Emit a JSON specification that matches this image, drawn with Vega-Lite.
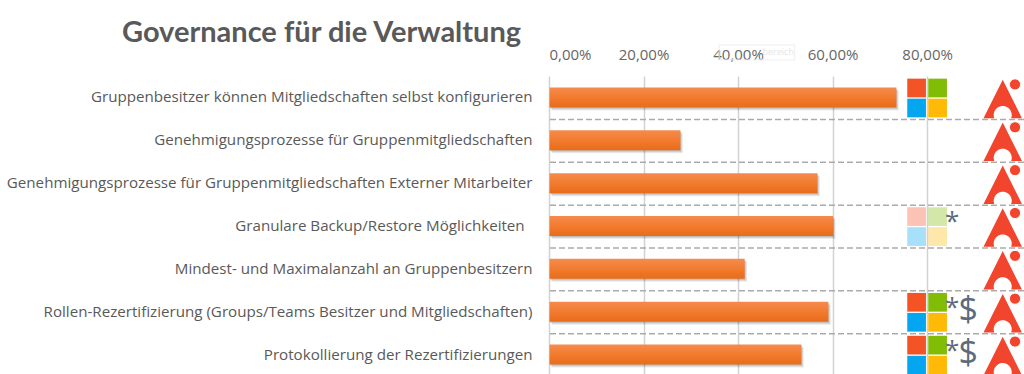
{
"$schema":"https://vega.github.io/schema/vega-lite/v6.json",
"width":475,"height":300,
"autosize":{"type":"none"},
"padding":{"left":549,"top":76,"right":0,"bottom":0},
"background":"white",
"title":{"text":"Governance für die Verwaltung","anchor":"start","frame":"group","font":"Lato","fontSize":29,"fontWeight":"bold","color":"#595959","dx":-427,"dy":4,"offset":0},
"config":{"view":{"stroke":null},"font":"Open Sans"},
"datasets":{
"bars":[
{"task":"Gruppenbesitzer können Mitgliedschaften selbst konfigurieren","value":73.4},
{"task":"Genehmigungsprozesse für Gruppenmitgliedschaften","value":27.7},
{"task":"Genehmigungsprozesse für Gruppenmitgliedschaften Externer Mitarbeiter","value":56.7},
{"task":"Granulare Backup/Restore Möglichkeiten\u00a0\u00a0\u200b","value":60.0},
{"task":"Mindest- und Maximalanzahl an Gruppenbesitzern","value":41.3},
{"task":"Rollen-Rezertifizierung (Groups/Teams Besitzer und Mitgliedschaften)","value":59.0},
{"task":"Protokollierung der Rezertifizierungen","value":53.3}
],
"tiles":[
{"task":"Gruppenbesitzer können Mitgliedschaften selbst konfigurieren","tile":"rot","spalte":0,"zeile":0,"status":"voll"},
{"task":"Gruppenbesitzer können Mitgliedschaften selbst konfigurieren","tile":"grün","spalte":1,"zeile":0,"status":"voll"},
{"task":"Gruppenbesitzer können Mitgliedschaften selbst konfigurieren","tile":"blau","spalte":0,"zeile":1,"status":"voll"},
{"task":"Gruppenbesitzer können Mitgliedschaften selbst konfigurieren","tile":"gelb","spalte":1,"zeile":1,"status":"voll"},
{"task":"Granulare Backup/Restore Möglichkeiten\u00a0\u00a0\u200b","tile":"rot","spalte":0,"zeile":0,"status":"teil"},
{"task":"Granulare Backup/Restore Möglichkeiten\u00a0\u00a0\u200b","tile":"grün","spalte":1,"zeile":0,"status":"teil"},
{"task":"Granulare Backup/Restore Möglichkeiten\u00a0\u00a0\u200b","tile":"blau","spalte":0,"zeile":1,"status":"teil"},
{"task":"Granulare Backup/Restore Möglichkeiten\u00a0\u00a0\u200b","tile":"gelb","spalte":1,"zeile":1,"status":"teil"},
{"task":"Rollen-Rezertifizierung (Groups/Teams Besitzer und Mitgliedschaften)","tile":"rot","spalte":0,"zeile":0,"status":"voll"},
{"task":"Rollen-Rezertifizierung (Groups/Teams Besitzer und Mitgliedschaften)","tile":"grün","spalte":1,"zeile":0,"status":"voll"},
{"task":"Rollen-Rezertifizierung (Groups/Teams Besitzer und Mitgliedschaften)","tile":"blau","spalte":0,"zeile":1,"status":"voll"},
{"task":"Rollen-Rezertifizierung (Groups/Teams Besitzer und Mitgliedschaften)","tile":"gelb","spalte":1,"zeile":1,"status":"voll"},
{"task":"Protokollierung der Rezertifizierungen","tile":"rot","spalte":0,"zeile":0,"status":"voll"},
{"task":"Protokollierung der Rezertifizierungen","tile":"grün","spalte":1,"zeile":0,"status":"voll"},
{"task":"Protokollierung der Rezertifizierungen","tile":"blau","spalte":0,"zeile":1,"status":"voll"},
{"task":"Protokollierung der Rezertifizierungen","tile":"gelb","spalte":1,"zeile":1,"status":"voll"}
],
"stars":[
{"task":"Granulare Backup/Restore Möglichkeiten\u00a0\u00a0\u200b"},
{"task":"Rollen-Rezertifizierung (Groups/Teams Besitzer und Mitgliedschaften)"},
{"task":"Protokollierung der Rezertifizierungen"}
],
"dollars":[
{"task":"Rollen-Rezertifizierung (Groups/Teams Besitzer und Mitgliedschaften)"},
{"task":"Protokollierung der Rezertifizierungen"}
]
},
"encoding":{
"y":{"field":"task","type":"nominal","sort":null,"scale":{"paddingInner":0,"paddingOuter":0},
"axis":{"title":null,"domain":false,"ticks":false,"labelFont":"Open Sans","labelFontSize":15.15,"labelColor":"#595959","labelLimit":545,"labelPadding":17}}
},
"layer":[
{"data":{"name":"bars"},"mark":{"type":"bar","height":20,"color":"#000000","opacity":0.1,"xOffset":1,"yOffset":1},
"encoding":{"x":{"field":"value","type":"quantitative","scale":{"domain":[0,100.5],"nice":false,"zero":true},
"axis":{"title":null,"orient":"top","values":[0,20,40,60,80],"domain":false,"ticks":false,"grid":true,"gridColor":"#d2d2d2","gridWidth":1.5,"labelFont":"Open Sans","labelFontSize":15,"labelColor":"#666666","labelPadding":14,"labelExpr":"replace(format(datum.value,'.2f'),'.',',')+'%'"}}}},
{"data":{"name":"bars"},"mark":{"type":"bar","height":20,"color":"#000000","opacity":0.1,"xOffset":2,"yOffset":2},
"encoding":{"x":{"field":"value","type":"quantitative"}}},
{"data":{"name":"bars"},"mark":{"type":"bar","height":20,"color":"#000000","opacity":0.08,"xOffset":3,"yOffset":3},
"encoding":{"x":{"field":"value","type":"quantitative"}}},
{"data":{"name":"bars"},"mark":{"type":"bar","height":20,"xOffset":0.5,"yOffset":0,"color":{"gradient":"linear","x1":0,"y1":0,"x2":0,"y2":1,"stops":[{"offset":0,"color":"#F58B4E"},{"offset":0.5,"color":"#F27B2E"},{"offset":1,"color":"#E86C1A"}]}},
"encoding":{"x":{"field":"value","type":"quantitative"}}},
{"data":{"name":"bars"},"transform":[{"filter":"datum.task !== 'Protokollierung der Rezertifizierungen'"}],
"mark":{"type":"rule","color":"#ababab","strokeWidth":1.5,"strokeDash":[6,3],"yOffset":22},"encoding":{}},
{"data":{"name":"tiles"},"mark":{"type":"point","shape":"square","filled":true,"size":350},
"encoding":{
"x":{"datum":80,"type":"quantitative"},
"xOffset":{"field":"spalte","type":"quantitative","scale":{"domain":[0,1],"range":[-10.5,10.5]}},
"yOffset":{"field":"zeile","type":"quantitative","scale":{"domain":[0,1],"range":[12,32]}},
"color":{"field":"tile","type":"nominal","legend":null,"scale":{"domain":["rot","grün","blau","gelb"],"range":["#F35325","#81BC06","#05A6F0","#FFBA08"]}},
"opacity":{"field":"status","type":"nominal","legend":null,"scale":{"domain":["voll","teil"],"range":[1,0.35]}}
}},
{"data":{"name":"stars"},"mark":{"type":"text","text":"*","font":"Open Sans","fontSize":26,"color":"#5D6B7A","dy":-4},
"encoding":{"x":{"datum":85.3,"type":"quantitative"}}},
{"data":{"name":"dollars"},"mark":{"type":"text","text":"$","font":"Open Sans","fontSize":34,"color":"#5D6B7A","dy":-1},
"encoding":{"x":{"datum":88.7,"type":"quantitative"}}},
{"data":{"name":"bars"},"mark":{"type":"point","filled":true,"opacity":1,"color":"#F2452D","size":1480,"yOffset":1.5,"shape":"M0,-1L1,1L0.44,1A0.47,0.47 0 1 0 -0.44,1L-1,1Z"},
"encoding":{"x":{"datum":96,"type":"quantitative"}}},
{"data":{"name":"bars"},"mark":{"type":"circle","opacity":1,"color":"#F2452D","size":125,"yOffset":-13,"stroke":"white","strokeWidth":1},
"encoding":{"x":{"datum":98.6,"type":"quantitative"}}},
{"data":{"values":[{"task":"Gruppenbesitzer können Mitgliedschaften selbst konfigurieren"}]},"mark":{"type":"bar","height":15,"fillOpacity":0,"stroke":"#eeeeee","strokeWidth":1,"yOffset":-45,"clip":false},
"encoding":{"x":{"datum":36,"type":"quantitative"},"x2":{"datum":52}}},
{"data":{"values":[{"task":"Gruppenbesitzer können Mitgliedschaften selbst konfigurieren"}]},"mark":{"type":"text","text":"bereich","clip":false,"fontSize":9,"color":"#e6e6e6","dy":-45},
"encoding":{"x":{"datum":48.5,"type":"quantitative"}}}
]
}
